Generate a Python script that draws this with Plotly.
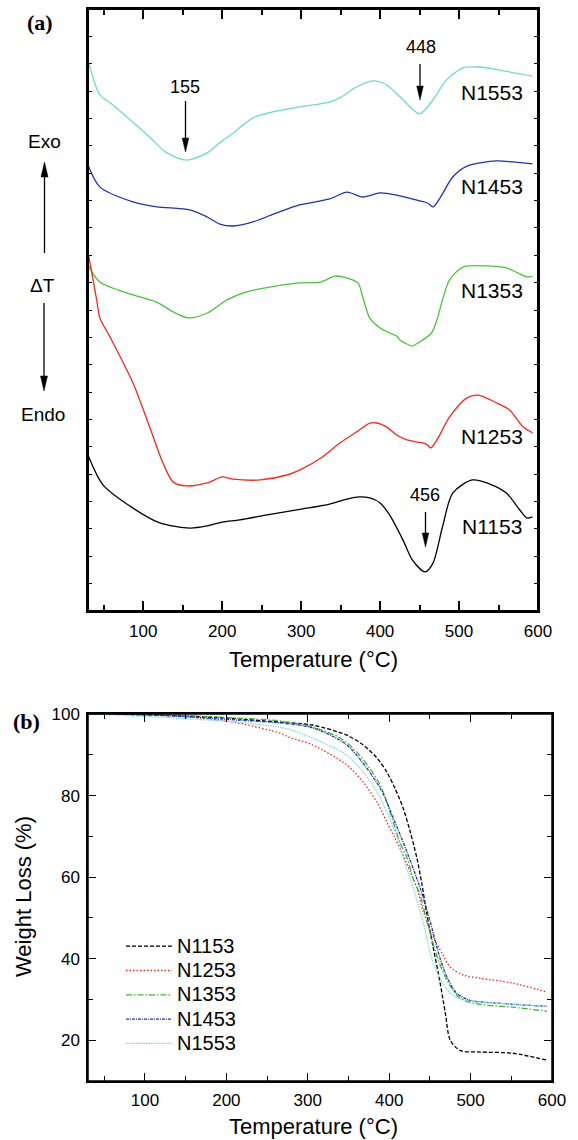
import plotly.graph_objects as go

W, H = 578, 1140

# ---------------- (a) DTA curves: temperature (°C) and ΔT (arbitrary units) ----------------
dta_names = ["N1553", "N1453", "N1353", "N1253", "N1153"]
dta_colors = ["#6fd8d0", "#1f34a8", "#4cc23e", "#ee2a22", "#000000"]

t_n1553 = [30, 45, 58, 108, 130, 155, 181, 197, 214, 239, 264, 298, 336, 349, 370, 391, 408, 429, 450, 467, 484, 505, 526, 551, 593]
v_n1553 = [20.14, 18.86, 18.57, 17.32, 16.74, 16.48, 16.74, 17.11, 17.47, 18.02, 18.24, 18.42, 18.60, 18.75, 19.15, 19.37, 19.23, 18.68, 18.17, 18.68, 19.41, 19.85, 19.88, 19.77, 19.55]

t_n1453 = [30, 45, 87, 117, 159, 181, 197, 214, 239, 269, 298, 336, 358, 378, 400, 421, 450, 460, 467, 476, 492, 510, 548, 568, 593]
v_n1453 = [16.30, 15.50, 14.95, 14.77, 14.66, 14.40, 14.14, 14.07, 14.22, 14.55, 14.84, 15.06, 15.31, 15.13, 15.28, 15.20, 14.99, 14.91, 14.77, 15.10, 15.86, 16.26, 16.45, 16.41, 16.34]

t_n1353 = [30, 45, 87, 117, 138, 157, 181, 206, 231, 269, 298, 324, 343, 358, 372, 378, 387, 400, 412, 421, 425, 431, 440, 450, 465, 472, 479, 488, 505, 535, 560, 586, 593]
v_n1353 = [12.65, 12.02, 11.55, 11.29, 10.93, 10.71, 10.89, 11.37, 11.66, 11.88, 11.99, 12.02, 12.24, 12.17, 11.99, 11.48, 10.70, 10.34, 10.16, 10.05, 9.90, 9.80, 9.69, 9.83, 10.16, 10.64, 11.37, 12.10, 12.57, 12.61, 12.54, 12.21, 12.24]

t_n1253 = [30, 41, 45, 58, 87, 108, 125, 138, 155, 181, 200, 214, 248, 282, 298, 327, 349, 370, 387, 396, 408, 421, 434, 454, 460, 464, 472, 488, 510, 524, 548, 564, 581, 593]
v_n1253 = [13.12, 11.37, 10.71, 10.01, 8.33, 6.73, 5.41, 4.71, 4.57, 4.68, 4.90, 4.82, 4.79, 4.97, 5.15, 5.63, 6.14, 6.54, 6.87, 6.87, 6.73, 6.43, 6.25, 6.14, 6.07, 5.96, 6.25, 7.09, 7.79, 7.89, 7.60, 7.35, 6.73, 6.51]

t_n1153 = [30, 49, 87, 121, 159, 181, 200, 222, 257, 302, 336, 358, 374, 387, 400, 412, 429, 441, 457, 467, 479, 492, 517, 539, 560, 577, 586, 593]
v_n1153 = [5.70, 4.61, 3.76, 3.22, 3.03, 3.11, 3.25, 3.33, 3.51, 3.73, 3.91, 4.09, 4.17, 4.13, 3.95, 3.51, 2.59, 1.86, 1.43, 1.75, 3.07, 4.31, 4.79, 4.64, 4.31, 3.69, 3.40, 3.44]

dta_t = [t_n1553, t_n1453, t_n1353, t_n1253, t_n1153]
dta_v = [v_n1553, v_n1453, v_n1353, v_n1253, v_n1153]

# peak annotations (temperature labels)
peak_labels = ["155", "448", "456"]

# ---------------- (b) TGA curves: temperature (°C) and weight (%) ----------------
tga_names = ["N1153", "N1253", "N1353", "N1453", "N1553"]
tga_colors = ["#000000", "#ee2a22", "#3cb834", "#2233aa", "#7fdcdc"]
tga_dash = ["4px,2px", "1.5px,2px", "6px,2px,1.5px,2px", "3px,1px,1px,1px", "1.5px,1px"]

tg_t_n1153 = [30, 100, 150, 200, 266, 306, 348, 368, 385, 397, 407, 417, 426, 434, 440, 446, 454, 462, 469, 475, 487, 512, 552, 594]
tg_w_n1153 = [100, 99.8, 99.5, 99.0, 98.0, 97.3, 94.8, 92.4, 89.2, 85.8, 81.8, 77.0, 71.0, 64.7, 58.5, 51.2, 42.8, 34.7, 26.6, 20.0, 17.5, 17.1, 16.8, 15.1]

tg_t_n1253 = [30, 100, 153, 214, 266, 276, 306, 348, 368, 385, 397, 407, 417, 426, 434, 442, 454, 465, 475, 491, 512, 552, 594]
tg_w_n1253 = [100, 99.8, 99.3, 97.8, 95.3, 94.4, 92.4, 87.5, 83.3, 78.4, 73.5, 69.6, 65.4, 61.2, 57.3, 51.5, 45.3, 41.3, 37.9, 36.0, 35.2, 34.0, 31.8]

tg_t_n1353 = [30, 100, 153, 214, 266, 306, 340, 360, 376, 389, 397, 405, 413, 422, 429, 438, 446, 459, 471, 487, 512, 552, 594]
tg_w_n1353 = [100, 99.9, 99.6, 99.0, 98.3, 96.8, 94.1, 90.7, 86.7, 82.6, 78.4, 73.5, 68.6, 64.7, 59.8, 55.6, 49.4, 40.4, 34.7, 30.3, 28.8, 28.1, 27.1]

tg_t_n1453 = [30, 100, 153, 214, 266, 306, 348, 389, 405, 422, 438, 450, 462, 471, 483, 499, 532, 594]
tg_w_n1453 = [100, 99.8, 99.3, 98.5, 97.8, 96.6, 92.4, 81.8, 74.5, 66.1, 57.3, 49.4, 40.4, 35.5, 31.5, 29.8, 29.1, 28.3]

tg_t_n1553 = [30, 71, 153, 214, 276, 306, 348, 368, 385, 397, 410, 420, 428, 442, 454, 466, 478, 499, 532, 594]
tg_w_n1553 = [100, 99.7, 98.8, 98.0, 96.3, 94.1, 89.9, 85.8, 80.9, 76.0, 69.6, 62.9, 58.3, 48.7, 38.9, 34.0, 31.0, 29.6, 29.1, 28.3]

tga_t = [tg_t_n1153, tg_t_n1253, tg_t_n1353, tg_t_n1453, tg_t_n1553]
tga_w = [tg_w_n1153, tg_w_n1253, tg_w_n1353, tg_w_n1453, tg_w_n1553]

FONT = "Liberation Sans"

fig = go.Figure()

for name, col, t, v in zip(dta_names, dta_colors, dta_t, dta_v):
    fig.add_trace(go.Scatter(x=t, y=v, mode="lines", name=name, showlegend=False,
                             line=dict(color=col, width=1.3, shape="spline", smoothing=0.8),
                             xaxis="x", yaxis="y"))

for name, col, dash, t, w in zip(tga_names, tga_colors, tga_dash, tga_t, tga_w):
    fig.add_trace(go.Scatter(x=t, y=w, mode="lines",
                             name=f"<span style='font-size:20px'>{name}</span>", showlegend=True,
                             line=dict(color=col, width=1.3, dash=dash, shape="spline", smoothing=0.8),
                             xaxis="x2", yaxis="y2"))


def P(x, y):
    return x / W, 1 - y / H


annotations = []


def text(px, py, s, size, **kw):
    x, y = P(px, py)
    d = dict(x=x, y=y, xref="paper", yref="paper", text=s, showarrow=False,
             xanchor="center", yanchor="middle", font=dict(family=FONT, size=size, color="black"))
    d.update(kw)
    annotations.append(d)


# panel labels
text(40, 23, "<b>(a)</b>", 22, font=dict(family="Liberation Serif", size=22, color="black"))
text(26, 721, "<b>(b)</b>", 22, font=dict(family="Liberation Serif", size=22, color="black"))

# left side Exo / ΔT / Endo
text(44, 142, "Exo", 19)
text(42, 285, "ΔT", 19)
text(43, 414, "Endo", 19)

# peak labels
text(185, 87, peak_labels[0], 18)
text(421, 47, peak_labels[1], 18)
text(425, 495, peak_labels[2], 18)

# curve labels
curve_lab_y = [92, 186, 290, 436, 526]
for nm, yy in zip(dta_names, curve_lab_y):
    text(492, yy, nm, 21)

# axis titles
text(313, 659, "Temperature (°C)", 22)
text(313, 1126, "Temperature (°C)", 22)
text(23, 897, "Weight Loss (%)", 22, textangle=-90)

shapes = []


def arrow(px, ytail, yhead, L=14, hw=3.3):
    sgn = 1 if yhead > ytail else -1
    base = yhead - sgn * L
    x0, y0 = P(px, ytail)
    x1, y1 = P(px, base + sgn * 2)
    shapes.append(dict(type="line", xref="paper", yref="paper", x0=x0, y0=y0, x1=x1, y1=y1,
                       line=dict(color="black", width=1.3)))
    a = P(px - hw, base)
    b = P(px + hw, base)
    c = P(px, yhead)
    shapes.append(dict(type="path", xref="paper", yref="paper",
                       path=f"M{a[0]},{a[1]} L{b[0]},{b[1]} L{c[0]},{c[1]} Z",
                       fillcolor="black", line=dict(color="black", width=0.5)))


arrow(185.5, 101, 152)
arrow(420, 64, 100)
arrow(425.5, 512, 547)
arrow(44.5, 253, 162, L=15, hw=3.5)
arrow(44, 303, 391, L=15, hw=3.5)

# plot frames
for xr, yr, lw in (("x domain", "y domain", 2), ("x2 domain", "y2 domain", 1.5)):
    shapes.append(dict(type="rect", xref=xr, yref=yr, x0=0, y0=0, x1=1, y1=1,
                       line=dict(color="black", width=lw), fillcolor="rgba(0,0,0,0)", layer="above"))

axis_common = dict(showgrid=False, zeroline=False, showline=True, linecolor="black",
                   ticks="inside", tickcolor="black", mirror="ticks",
                   tickfont=dict(family=FONT, size=17, color="black"))

fig.update_layout(
    width=W, height=H, autosize=False,
    margin=dict(l=0, r=0, t=0, b=0, pad=0, autoexpand=False),
    paper_bgcolor="white", plot_bgcolor="white",
    font=dict(family=FONT, color="black"),
    xaxis=dict(domain=[88 / W, 538 / W], anchor="y", range=[30, 600], tick0=0, dtick=100,
               ticklen=10, tickwidth=1.5, linewidth=2, ticklabelstandoff=4, automargin=False,
               minor=dict(dtick=50, tick0=0, ticks="inside", ticklen=6, tickwidth=1.5, tickcolor="black"),
               **axis_common),
    yaxis=dict(domain=[(H - 611) / H, (H - 9) / H], anchor="x", range=[0, 22], tick0=0, dtick=1,
               ticklen=4, tickwidth=1.2, linewidth=2, showticklabels=False, automargin=False, **axis_common),
    xaxis2=dict(domain=[88 / W, 552 / W], anchor="y2", range=[30, 600], tick0=0, dtick=100,
                ticklen=8, tickwidth=1.3, linewidth=1.5, ticklabelstandoff=3, automargin=False,
                minor=dict(dtick=50, tick0=0, ticks="inside", ticklen=5, tickwidth=1.2, tickcolor="black"),
                **axis_common),
    yaxis2=dict(domain=[(H - 1081) / H, (H - 714) / H], anchor="x2", range=[10, 100], tick0=0, dtick=20,
                ticklen=8, tickwidth=1.3, linewidth=1.5, ticklabelstandoff=3, automargin=False,
                minor=dict(dtick=10, tick0=0, ticks="inside", ticklen=5, tickwidth=1.2, tickcolor="black"),
                **axis_common),
    legend=dict(x=121 / W, y=1 - 929 / H, xanchor="left", yanchor="top", bgcolor="rgba(0,0,0,0)",
                font=dict(family=FONT, size=16.4, color="black"), itemwidth=46, tracegroupgap=0,
                borderwidth=0),
    annotations=annotations,
    shapes=shapes,
)

fig.write_html(
    "out.html",
    config={"displayModeBar": False, "responsive": False},
    post_script="document.documentElement.style.overflow='hidden';document.body.style.margin='0px';document.body.style.overflow='hidden';",
)
